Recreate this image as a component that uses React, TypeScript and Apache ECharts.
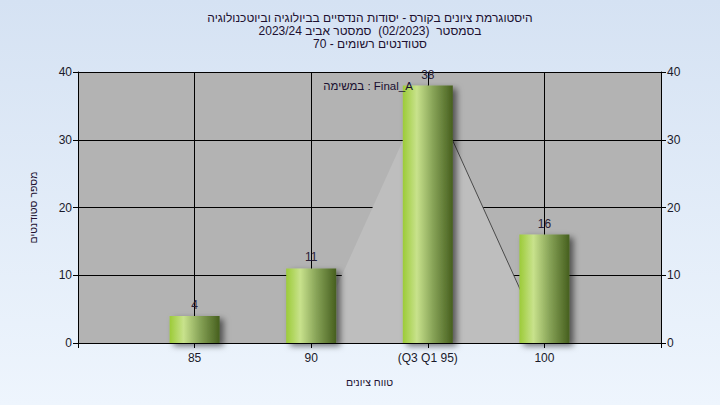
import React, { useEffect, useRef } from "react";
import * as echarts from "echarts";

const categories = ["", "85", "90", "(Q3 Q1 95)", "100", ""];
const studentCounts = [null, 4, 11, 38, 16, null];
const distributionArea = [null, 0, 0, 38, 0, null];
const distributionEdge = [null, null, null, 38, 0, null];
const titleLines = [
  "היסטוגרמת ציונים בקורס - יסודות הנדסיים בביולוגיה וביוטכנולוגיה",
  "בסמסטר  (02/2023)  סמסטר אביב 2023/24",
  "סטודנטים רשומים - 70",
];
const legendText = "במשימה : Final_A";
const yAxisName = "מספר סטודנטים";
const xAxisName = "טווח ציונים";

const FONT = "'Liberation Sans', 'DejaVu Sans', Arial, sans-serif";

export default function App() {
  const ref = useRef<HTMLDivElement>(null);
  useEffect(() => {
    if (!ref.current) return;
    const chart = echarts.init(ref.current, undefined, { renderer: "svg" });
    const barGradient = new echarts.graphic.LinearGradient(0, 0, 1, 0, [
      { offset: 0, color: "#9ccb38" },
      { offset: 0.28, color: "#c8e28c" },
      { offset: 0.6, color: "#88a458" },
      { offset: 1, color: "#465f1e" },
    ]);
    const yAxisCommon = {
      type: "value",
      min: 0,
      max: 40,
      interval: 10,
      axisLine: { show: true, lineStyle: { color: "#000", width: 1 } },
      axisTick: { show: true, length: 5, lineStyle: { color: "#000" } },
      axisLabel: { color: "#1a1a2a", fontFamily: FONT, fontSize: 12, margin: 6 },
    };
    chart.setOption({
      animation: false,
      backgroundColor: new echarts.graphic.LinearGradient(0, 0, 0, 1, [
        { offset: 0, color: "#d5e2f3" },
        { offset: 1, color: "#eef5fd" },
      ]),
      textStyle: { fontFamily: FONT },
      grid: {
        left: 78,
        right: 59,
        top: 72,
        bottom: 62,
        show: true,
        backgroundColor: "#b3b3b3",
        borderWidth: 0,
      },
      xAxis: {
        type: "category",
        data: categories,
        boundaryGap: false,
        axisLine: { show: true, lineStyle: { color: "#000", width: 1 } },
        axisTick: { show: true, length: 5, lineStyle: { color: "#000" } },
        axisLabel: { color: "#1a1a2a", fontFamily: FONT, fontSize: 12, margin: 9, interval: 0 },
        splitLine: { show: true, lineStyle: { color: "#000", width: 1 } },
        name: xAxisName,
        nameLocation: "middle",
        nameGap: 33,
        nameTextStyle: { color: "#201030", fontFamily: FONT, fontSize: 10.5 },
      },
      yAxis: [
        {
          ...yAxisCommon,
          position: "left",
          splitLine: { show: true, lineStyle: { color: "#000", width: 1 } },
          name: yAxisName,
          nameLocation: "middle",
          nameGap: 40,
          nameTextStyle: { color: "#201030", fontFamily: FONT, fontSize: 10.5 },
        },
        {
          ...yAxisCommon,
          position: "right",
          splitLine: { show: false },
        },
      ],
      graphic: [
        ...titleLines.map((t, i) => ({
          type: "text",
          x: 370,
          y: 18 + i * 13,
          style: {
            text: t,
            fill: "#201030",
            font: `12px ${FONT}`,
            textAlign: "center",
            textVerticalAlign: "middle",
          },
          z: 10,
        })),
        {
          type: "text",
          x: 368,
          y: 86,
          style: {
            text: legendText,
            fill: "#1a1030",
            font: `11.5px ${FONT}`,
            textAlign: "center",
            textVerticalAlign: "middle",
          },
          z: 10,
        },
      ],
      series: [
        {
          type: "line",
          data: distributionArea,
          symbol: "none",
          lineStyle: { width: 0 },
          areaStyle: { color: "#bebebe", opacity: 1 },
          z: 1,
          silent: true,
        },
        {
          type: "line",
          data: distributionEdge,
          symbol: "none",
          lineStyle: { width: 1, color: "#4a4a4a" },
          z: 2,
          silent: true,
        },
        {
          type: "bar",
          data: studentCounts,
          barWidth: 50,
          itemStyle: {
            color: barGradient,
            shadowColor: "rgba(0,0,0,0.55)",
            shadowBlur: 6,
            shadowOffsetX: 4,
            shadowOffsetY: 3,
          },
          label: {
            show: true,
            position: "top",
            distance: 5,
            color: "#2a2035",
            fontFamily: FONT,
            fontSize: 12,
          },
          z: 3,
        },
      ],
    });
    return () => chart.dispose();
  }, []);
  return (
    <div
      ref={ref}
      style={{ position: "fixed", left: 0, top: 0, width: 720, height: 405 }}
    />
  );
}
